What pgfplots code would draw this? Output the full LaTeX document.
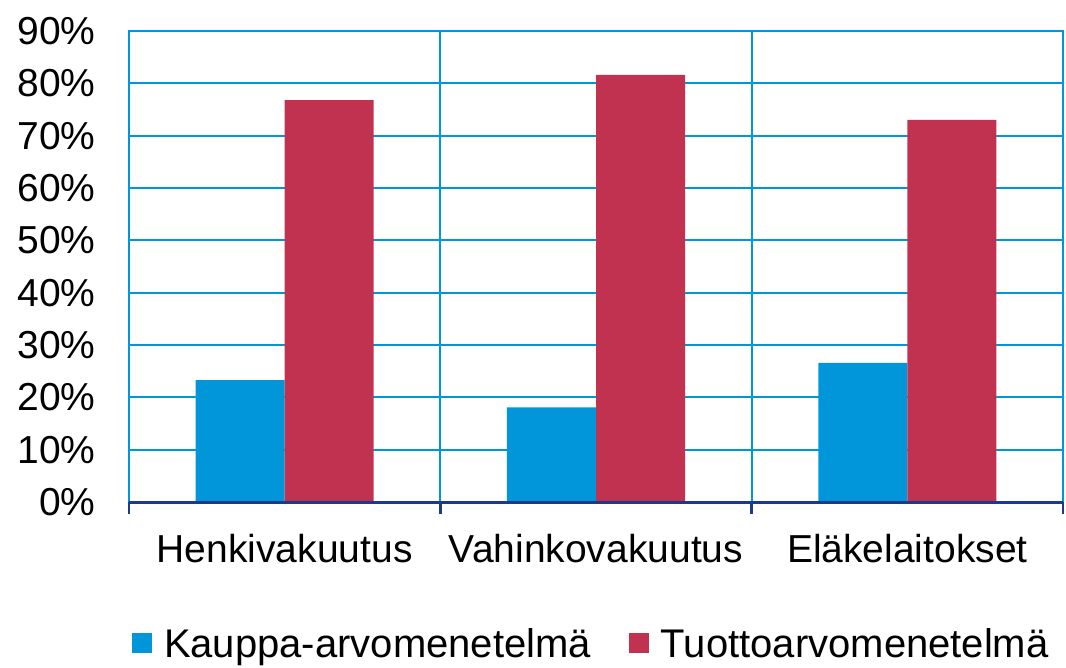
\documentclass[border=0pt]{standalone}
\usepackage{fontspec}
\setmainfont{Liberation Sans}
\usepackage{pgfplots}
\pgfplotsset{compat=1.18}
\definecolor{kblue}{RGB}{0,150,217}
\definecolor{kred}{RGB}{193,50,80}
\definecolor{gblue}{RGB}{0,150,220}
\definecolor{navy}{RGB}{28,58,138}
\begin{document}
\begin{tikzpicture}
\path[use as bounding box] (-129pt,-165pt) rectangle (937pt,502pt);
\begin{axis}[
  at={(0pt,0pt)}, anchor=south west,
  scale only axis,
  width=934pt, height=471pt,
  ybar=0pt, bar width=0.286,
  xmin=-0.5, xmax=2.5, ymin=0, ymax=90,
  xtick={0,1,2},
  xticklabels={Henkivakuutus,Vahinkovakuutus,Eläkelaitokset},
  xtick pos=bottom, ytick pos=left,
  major tick length=0pt,
  extra x ticks={-0.5,0.5,1.5,2.5},
  extra x tick labels={},
  extra x tick style={grid=major, major grid style={gblue, line width=2.2pt},
     tick align=outside, major tick length=12pt, tick style={navy, line width=2.6pt}},
  ytick={0,10,...,90},
  ymajorgrids, major grid style={gblue, line width=2.2pt},
  yticklabel={\pgfmathprintnumber{\tick}\%},
  /pgf/number format/assume math mode=true,
  ticklabel style={font=\fontsize{39}{42}\selectfont},
  xticklabel style={yshift=-29pt},
  yticklabel style={xshift=-30pt},
  axis line style={gblue, line width=2.2pt},
  legend style={at={(0.495,-0.300)}, anchor=center, draw=none, legend columns=2,
     font=\fontsize{40}{43}\selectfont, /tikz/every even column/.append style={column sep=36pt}},
  legend image code/.code={\fill[#1] (0pt,-10pt) rectangle (20pt,10pt); \path (30pt,0pt);},
  enlargelimits=false,
  clip=false,
]
\addplot[fill=kblue, draw=none] coordinates {(0,23.3) (1,18.1) (2,26.6)};
\addlegendentry{Kauppa-arvomenetelmä}
\addplot[fill=kred, draw=none] coordinates {(0,76.8) (1,81.6) (2,73.0)};
\addlegendentry{Tuottoarvomenetelmä}
\draw[navy, line width=3pt] (rel axis cs:0,0) -- (rel axis cs:1,0);
\end{axis}
\end{tikzpicture}
\end{document}
